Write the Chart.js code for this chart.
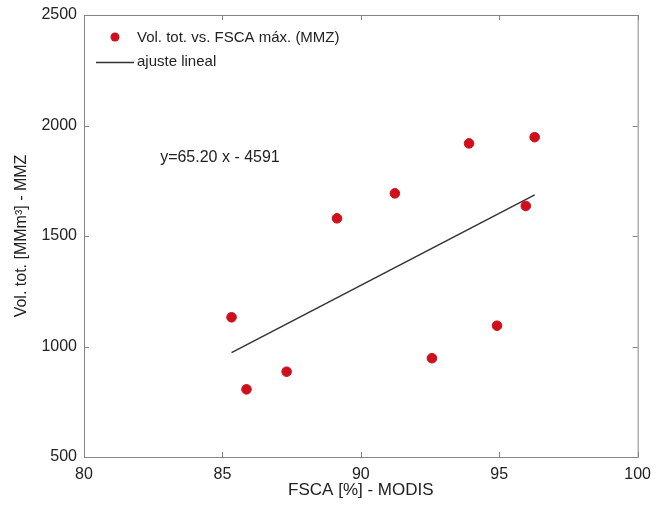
<!DOCTYPE html>
<html>
<head>
<meta charset="utf-8">
<script src="https://cdn.jsdelivr.net/npm/chart.js@4/dist/chart.umd.min.js"></script>
<style>
html,body{margin:0;padding:0;background:#fff;}
#wrap{width:659px;height:507px;}
</style>
</head>
<body>
<div id="wrap"><canvas id="scatterChart"></canvas></div>
<script>
// FSCA max (%) vs total volume (MMm3)
const fsca = [85.33, 85.87, 87.32, 89.14, 91.23, 92.57, 93.91, 94.92, 95.96, 96.28];
const volumen = [1132, 806, 886, 1580, 1693, 947, 1919, 1094, 1636, 1947];

// linear fit y = a x + b
const pendiente = 65.20;
const intercepto = -4591;

const xTicks = [80, 85, 90, 95, 100];
const yTicks = [500, 1000, 1500, 2000, 2500];

const FONT = "'Liberation Sans', Arial, sans-serif";
const ROJO = "#cf0f1c";

let puntos = fsca.map((x,i)=>({x:x, y:volumen[i]}));
let xMin = Math.min(...fsca), xMax = Math.max(...fsca);
let ajuste = [
  {x:xMin, y:pendiente*xMin + intercepto},
  {x:xMax, y:pendiente*xMax + intercepto}
];

// box, inward ticks, legend and equation text
const marco = {
  id:'marco',
  afterDraw(chart){
    const ctx = chart.ctx;
    const a = chart.chartArea;
    const xs = chart.scales.x, ys = chart.scales.y;
    ctx.save();
    ctx.strokeStyle = '#858585';
    ctx.lineWidth = 1;
    ctx.strokeRect(a.left+0.5, a.top+0.5, a.right-a.left, a.bottom-a.top);
    ctx.beginPath();
    xTicks.forEach(v=>{
      let px = Math.round(xs.getPixelForValue(v))+0.5;
      ctx.moveTo(px, a.bottom); ctx.lineTo(px, a.bottom-5);
      ctx.moveTo(px, a.top); ctx.lineTo(px, a.top+5);
    });
    yTicks.forEach(v=>{
      let py = Math.round(ys.getPixelForValue(v))+0.5;
      ctx.moveTo(a.left, py); ctx.lineTo(a.left+5, py);
      ctx.moveTo(a.right, py); ctx.lineTo(a.right-5, py);
    });
    ctx.stroke();

    // legend
    ctx.font = '15px ' + FONT;
    ctx.textBaseline = 'middle';
    ctx.fillStyle = ROJO;
    ctx.beginPath();
    ctx.arc(115, 37, 4.5, 0, Math.PI*2);
    ctx.fill();
    ctx.fillStyle = '#222';
    ctx.fillText(chart.data.datasets[0].label, 137, 38);
    ctx.strokeStyle = '#333';
    ctx.lineWidth = 1.5;
    ctx.beginPath();
    ctx.moveTo(96, 62.5); ctx.lineTo(134, 62.5);
    ctx.stroke();
    ctx.fillText(chart.data.datasets[1].label, 137, 62);

    // equation
    ctx.font = '16px ' + FONT;
    ctx.textAlign = 'left';
    ctx.fillText('y=' + pendiente.toFixed(2) + ' x - ' + Math.abs(intercepto),
      xs.getPixelForValue(82.75), ys.getPixelForValue(1855));
    ctx.restore();
  }
};

const ctx = document.getElementById('scatterChart').getContext('2d');

new Chart(ctx,{
type:'scatter',
data:{
datasets:[
{
label:'Vol. tot. vs. FSCA máx. (MMZ)',
data:puntos,
backgroundColor:ROJO,
borderColor:ROJO,
pointRadius:4.8,
pointHoverRadius:4.8
},
{
label:'ajuste lineal',
type:'line',
data:ajuste,
borderColor:'#333',
borderWidth:1.5,
pointRadius:0,
fill:false
}
]
},
options:{
responsive:true,
maintainAspectRatio:false,
animation:false,
events:[],
layout:{
padding:{top:15, right:18, left:0, bottom:0}
},
plugins:{
legend:{display:false},
tooltip:{enabled:false}
},
scales:{
x:{
type:'linear',
min:80,
max:100,
afterBuildTicks:(s)=>{ s.ticks = xTicks.map(v=>({value:v})); },
afterFit:(s)=>{ s.height = 50; },
grid:{display:false, drawTicks:false},
border:{display:false},
ticks:{
color:'#222',
padding:8,
font:{family:FONT, size:16},
callback:(v)=>String(v)
},
title:{
display:true,
text:'FSCA [%] - MODIS',
color:'#222',
padding:{top:0, bottom:6},
font:{family:FONT, size:17}
}
},
y:{
type:'linear',
min:500,
max:2500,
afterBuildTicks:(s)=>{ s.ticks = yTicks.map(v=>({value:v})); },
afterFit:(s)=>{ s.width = 84; s.paddingTop = 0; },
grid:{display:false, drawTicks:false},
border:{display:false},
ticks:{
color:'#222',
padding:7,
font:{family:FONT, size:16, lineHeight:1},
callback:(v)=>String(v)
},
title:{
display:true,
text:'Vol. tot. [MMm³] - MMZ',
color:'#222',
padding:{top:12, bottom:0},
font:{family:FONT, size:16}
}
}
}
},
plugins:[marco]
});
</script>
</body>
</html>
